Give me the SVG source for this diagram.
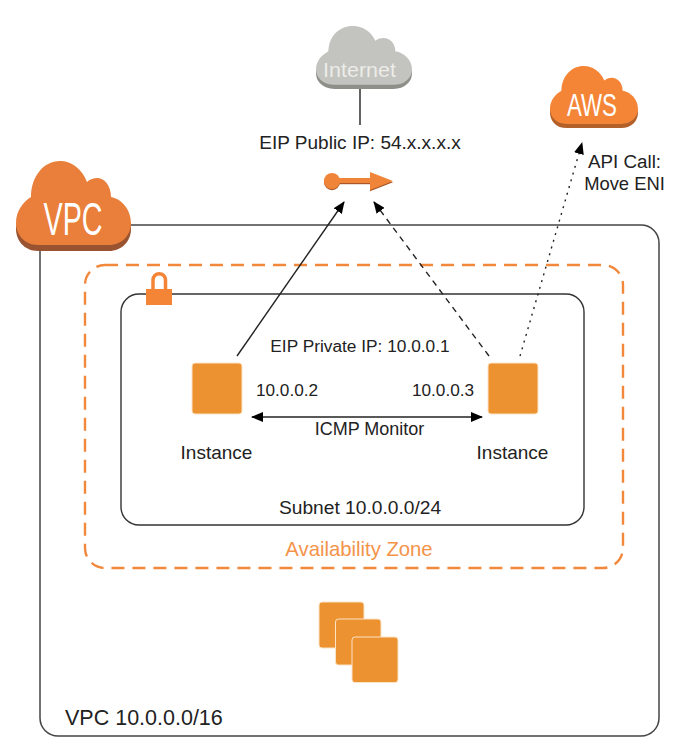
<svg xmlns="http://www.w3.org/2000/svg" width="676" height="756" viewBox="0 0 676 756">
  <style>
    text { font-family: "Liberation Sans", Arial, sans-serif; fill: #222; }
    .c { text-anchor: middle; }
    .cloudtext { fill: #fff; text-anchor: middle; font-family: "Liberation Sans Narrow", "Liberation Sans", sans-serif; }
    .box { fill: none; stroke: #444; stroke-width: 1.5; }
    .conn { fill: none; stroke: #222; stroke-width: 1.4; }
    .inst { fill: #ed9230; stroke: #fbe3c6; stroke-width: 1; }
  </style>
  <defs>
    <path id="cloud" d="M22,84C8,84 0,73 0,62C0,50 7,41 15,36C15,15 28,0 44,0C56,0 66,8 71,21C74,18 78,17 81,17C88,17 95,24 95,36C106,38 115,49 115,62C115,74 106,84 93,84Z"/>
    <marker id="tip" viewBox="0 0 12 10" refX="11" refY="5" markerWidth="12" markerHeight="10" markerUnits="userSpaceOnUse" orient="auto-start-reverse">
      <path d="M0,0L12,5L0,10Z" fill="#000"/>
    </marker>
  </defs>

  <g id="vpc-box"><rect class="box" x="40" y="225" width="619" height="511" rx="18"/></g>
  <g id="availability-zone">
    <rect x="85" y="265" width="538" height="303" rx="20" fill="none" stroke="#f2883c" stroke-width="2.4" stroke-dasharray="13 8"/>
    <text x="359" y="556" class="c" font-size="20.300" style="fill:#f4934a">Availability Zone</text>
  </g>
  <g id="subnet">
    <rect x="121" y="294" width="463" height="231" rx="18" fill="none" stroke="#333" stroke-width="1.4"/>
    <text x="360" y="514" class="c" font-size="19.200">Subnet 10.0.0.0/24</text>
  </g>
  <g id="lock">
    <path d="M153,290V280a6,6 0 0 1 12.500,0V290" fill="none" stroke="#f58536" stroke-width="3.500"/>
    <rect x="146" y="289" width="26" height="16" fill="#f58536"/>
  </g>

  <g id="connectors">
    <path class="conn" d="M360,89V125" stroke="#444"/>
    <path class="conn" d="M237,356L344,202" marker-end="url(#tip)"/>
    <path class="conn" d="M489,356L374,202" stroke-dasharray="6 5" marker-end="url(#tip)"/>
    <path class="conn" d="M520,356L582,143" stroke-width="1.600" stroke-dasharray="2 5" marker-end="url(#tip)"/>
    <path class="conn" d="M252,417H482" stroke-width="1.6" marker-start="url(#tip)" marker-end="url(#tip)"/>
  </g>

  <g id="internet">
    <use href="#cloud" transform="translate(316,26) scale(.835,.7)" fill="#8f8f8a" y="6"/>
    <use href="#cloud" transform="translate(316,26) scale(.835,.7)" fill="#c3c3bf"/>
    <text x="359.500" y="77" font-size="21" textLength="73" lengthAdjust="spacingAndGlyphs" text-anchor="middle" style="fill:#ecece8">Internet</text>
  </g>
  <g id="aws">
    <use href="#cloud" transform="translate(550,66) scale(.765,.69)" fill="#b3612a" y="6"/>
    <use href="#cloud" transform="translate(550,66) scale(.765,.69)" fill="#f58536"/>
    <text x="592" y="116" class="cloudtext" font-size="32" textLength="50" lengthAdjust="spacingAndGlyphs">AWS</text>
  </g>
  <g id="vpc">
    <use href="#cloud" transform="translate(16,161)" fill="#9a5330" y="6"/>
    <use href="#cloud" transform="translate(16,161)" fill="#e97f3a"/>
    <text x="73" y="235" class="cloudtext" font-size="46" textLength="59" lengthAdjust="spacingAndGlyphs">VPC</text>
  </g>

  <g id="eip">
    <text x="360" y="149" class="c" font-size="19">EIP Public IP: 54.x.x.x.x</text>
    <g transform="translate(0,1.200)" fill="#a9572a">
      <circle cx="332" cy="181" r="8"/><rect x="338" y="178" width="33" height="5"/><path d="M370,172L393,181L370,190Z"/>
    </g>
    <g fill="#f0853a">
      <circle cx="332" cy="181" r="8"/><rect x="338" y="178" width="33" height="5"/><path d="M370,172L393,181L370,190Z"/>
    </g>
  </g>

  <g id="instance-left">
    <rect class="inst" x="192" y="363" width="50" height="51" rx="3"/>
    <text x="216.500" y="459" class="c" font-size="19">Instance</text>
    <text x="287" y="396" class="c" font-size="17.200">10.0.0.2</text>
  </g>
  <g id="instance-right">
    <rect class="inst" x="488" y="363" width="50" height="51" rx="3"/>
    <text x="512.500" y="459" class="c" font-size="19">Instance</text>
    <text x="443" y="396" class="c" font-size="17.200">10.0.0.3</text>
  </g>
  <text x="360" y="352" class="c" font-size="17.300">EIP Private IP: 10.0.0.1</text>
  <text x="369.500" y="435" class="c" font-size="18">ICMP Monitor</text>
  <text x="624.500" y="168" class="c" font-size="18.800">API Call:</text>
  <text x="624.500" y="190" class="c" font-size="18.400">Move ENI</text>

  <g id="instance-stack">
    <rect class="inst" x="319" y="602" width="45" height="46" rx="3"/>
    <rect class="inst" x="335.500" y="619" width="45.500" height="46" rx="3"/>
    <rect class="inst" x="352" y="637" width="46" height="45.500" rx="3"/>
  </g>
  <text x="65" y="725" font-size="21.500">VPC 10.0.0.0/16</text>
</svg>
